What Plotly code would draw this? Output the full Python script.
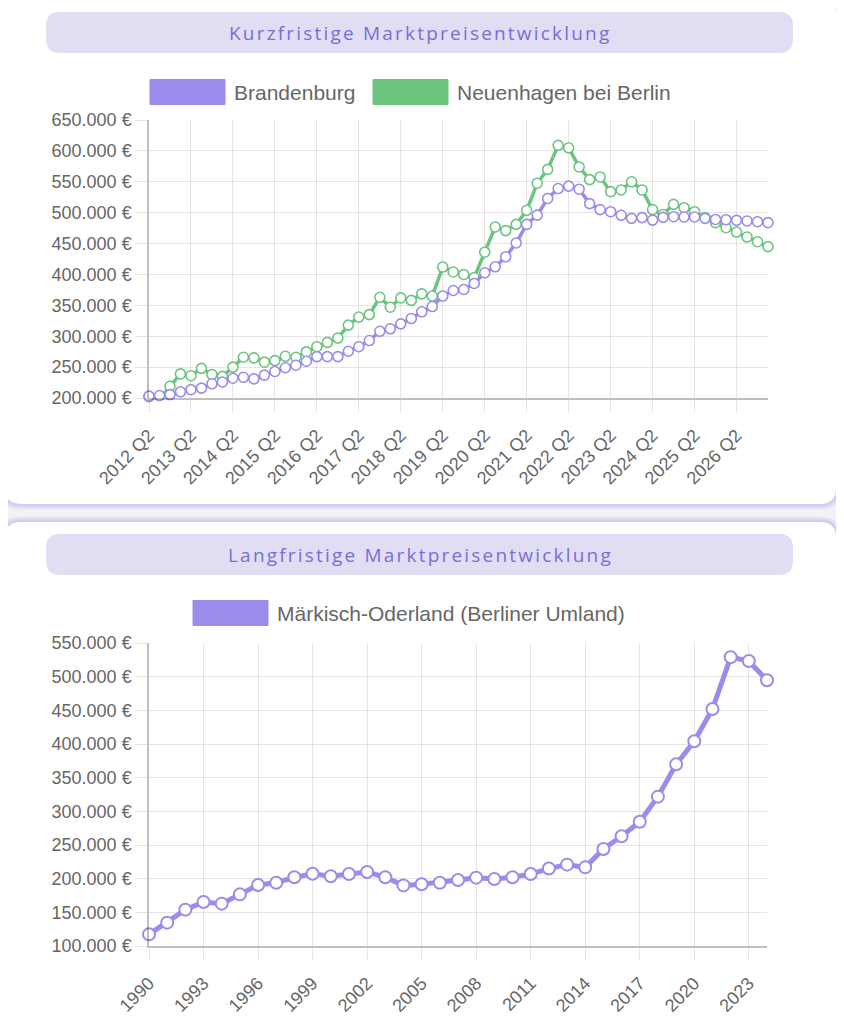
import plotly.graph_objects as go

# the page body adds an 8px margin, so the figure is drawn 8px smaller and
# all reference pixel positions are shifted by that offset
OFF = 8
W, H = 844 - OFF, 1024 - 2 * OFF

# ---- data: short term (quarterly) ----
quarters = [
    "2012 Q2", "2012 Q3", "2012 Q4", "2013 Q1", "2013 Q2", "2013 Q3", "2013 Q4", "2014 Q1",
    "2014 Q2", "2014 Q3", "2014 Q4", "2015 Q1", "2015 Q2", "2015 Q3", "2015 Q4", "2016 Q1",
    "2016 Q2", "2016 Q3", "2016 Q4", "2017 Q1", "2017 Q2", "2017 Q3", "2017 Q4", "2018 Q1",
    "2018 Q2", "2018 Q3", "2018 Q4", "2019 Q1", "2019 Q2", "2019 Q3", "2019 Q4", "2020 Q1",
    "2020 Q2", "2020 Q3", "2020 Q4", "2021 Q1", "2021 Q2", "2021 Q3", "2021 Q4", "2022 Q1",
    "2022 Q2", "2022 Q3", "2022 Q4", "2023 Q1", "2023 Q2", "2023 Q3", "2023 Q4", "2024 Q1",
    "2024 Q2", "2024 Q3", "2024 Q4", "2025 Q1", "2025 Q2", "2025 Q3", "2025 Q4", "2026 Q1",
    "2026 Q2", "2026 Q3", "2026 Q4", "2027 Q1",
]
quarter_ticks = ["2012 Q2", "2013 Q2", "2014 Q2", "2015 Q2", "2016 Q2", "2017 Q2", "2018 Q2",
                 "2019 Q2", "2020 Q2", "2021 Q2", "2022 Q2", "2023 Q2", "2024 Q2", "2025 Q2",
                 "2026 Q2"]

brandenburg = [
    203000, 204000, 205500, 210000, 213500, 216000, 223000, 226000, 232000, 233500,
    231000, 237000, 243000, 249000, 253000, 259500, 267000, 267000, 267000, 275700,
    283000, 293000, 308000, 312000, 320000, 328600, 339500, 348000, 365000, 374000,
    375700, 385400, 402700, 412400, 428600, 451000, 481000, 496000, 523000, 539000,
    543000, 538000, 514600, 505000, 501600, 495700, 490800, 492000, 488000, 492400,
    493500, 493000, 493000, 490800, 489000, 488600, 487600, 486500, 485400, 483800,
]
neuenhagen = [
    202000, 198000, 219000, 239000, 236000, 248000, 238000, 235000, 250000, 266000,
    265000, 258000, 260500, 267500, 266000, 274600, 283000, 290000, 297000, 318000,
    331000, 335000, 363000, 347000, 362000, 358000, 368600, 365000, 412000, 404000,
    400000, 395000, 436000, 476800, 471000, 481000, 503800, 547600, 570000, 609000,
    605000, 574000, 553500, 557800, 534000, 536800, 550000, 536800, 505000, 497000,
    513500, 508000, 501600, 492000, 483800, 475700, 468600, 460500, 453000, 445000,
]

# ---- data: long term (yearly) ----
years = list(range(1990, 2025))
year_ticks = [1990, 1993, 1996, 1999, 2002, 2005, 2008, 2011, 2014, 2017, 2020, 2023]
maerkisch_oderland = [
    117300, 134700, 154000, 165300, 162900, 176700, 190600, 194000, 202000, 207400,
    203500, 207000, 210000, 202000, 190000, 191600, 194000, 198000, 201500, 199500,
    202000, 207000, 215000, 220800, 216800, 244000, 262900, 284600, 321800, 369800,
    404000, 452000, 529000, 523300, 494600,
]

titles = ["Kurzfristige Marktpreisentwicklung", "Langfristige Marktpreisentwicklung"]
names_top = ["Brandenburg", "Neuenhagen bei Berlin"]
name_bottom = "Märkisch-Oderland (Berliner Umland)"

PURPLE = "#9a8cea"
GREEN = "#6cc57f"
TEXT = "#666666"
GRID = "rgba(0,0,0,0.1)"


def fx(x):
    return (x - OFF) / W


def fy(y):
    return 1 - (y - OFF) / H


def pt(x, y):
    return f"{fx(x):.5f},{fy(y):.5f}"


def rrect(x0, y0, x1, y1, r):
    return (f"M {pt(x0 + r, y0)} L {pt(x1 - r, y0)} Q {pt(x1, y0)} {pt(x1, y0 + r)} "
            f"L {pt(x1, y1 - r)} Q {pt(x1, y1)} {pt(x1 - r, y1)} "
            f"L {pt(x0 + r, y1)} Q {pt(x0, y1)} {pt(x0, y1 - r)} "
            f"L {pt(x0, y0 + r)} Q {pt(x0, y0)} {pt(x0 + r, y0)} Z")


fig = go.Figure()

fig.add_trace(go.Scatter(
    x=quarters, y=neuenhagen, name=names_top[1], mode="lines+markers",
    line=dict(color=GREEN, width=3.5),
    marker=dict(symbol="circle", size=10, color="white", line=dict(color=GREEN, width=1.6)),
    cliponaxis=False, showlegend=False, xaxis="x", yaxis="y"))
fig.add_trace(go.Scatter(
    x=quarters, y=brandenburg, name=names_top[0], mode="lines+markers",
    line=dict(color=PURPLE, width=3.5),
    marker=dict(symbol="circle", size=10, color="white", line=dict(color=PURPLE, width=1.6)),
    cliponaxis=False, showlegend=False, xaxis="x", yaxis="y"))
fig.add_trace(go.Scatter(
    x=years, y=maerkisch_oderland, name=name_bottom, mode="lines+markers",
    line=dict(color=PURPLE, width=5),
    marker=dict(symbol="circle", size=12, color="white", line=dict(color=PURPLE, width=2)),
    cliponaxis=False, showlegend=False, xaxis="x2", yaxis="y2"))

shapes = []
annotations = []

# cards with a soft lavender glow
for (cy0, cy1) in [(-2, 504), (522, 1045)]:
    shapes.append(dict(type="path", path=rrect(0, cy0 - 5, 841, cy1 + 5, 20), xref="paper", yref="paper",
                       fillcolor="rgba(200,192,240,0.35)", line=dict(width=0), layer="below"))
    shapes.append(dict(type="path", path=rrect(2.5, cy0 - 2.5, 838.5, cy1 + 2.5, 18), xref="paper",
                       yref="paper", fillcolor="rgba(200,192,240,0.6)", line=dict(width=0), layer="below"))
    shapes.append(dict(type="path", path=rrect(5, cy0, 836, cy1, 16), xref="paper", yref="paper",
                       fillcolor="white", line=dict(width=0), layer="below"))

# title banners
for title, (by0, by1) in zip(titles, [(12, 53), (534, 575)]):
    shapes.append(dict(type="path", path=rrect(46, by0, 793, by1, 14), xref="paper", yref="paper",
                       fillcolor="#e1def4", line=dict(width=0), layer="below"))
    annotations.append(dict(text=f'<span style="letter-spacing:2.2px">{title}</span>',
                            x=fx(420), y=fy((by0 + by1) / 2), xref="paper", yref="paper",
                            showarrow=False, xanchor="center", yanchor="middle",
                            font=dict(family="Open Sans", size=19, color="#7a6dd4")))

# legends (box + label)
legend_items = [(names_top[0], PURPLE, 150, 92), (names_top[1], GREEN, 373, 92), (name_bottom, PURPLE, 193, 613)]
for label, color, lx, ly in legend_items:
    shapes.append(dict(type="rect", x0=fx(lx), x1=fx(lx + 75), y0=fy(ly + 12.5), y1=fy(ly - 12.5),
                       xref="paper", yref="paper", fillcolor=color, line=dict(color=color, width=1)))
    annotations.append(dict(text=label, x=fx(lx + 82), y=fy(ly), xref="paper", yref="paper",
                            showarrow=False, xanchor="left", yanchor="middle",
                            font=dict(family="Liberation Sans, Arial", size=21, color=TEXT)))

tickfont = dict(family="Liberation Sans, Arial", size=18, color=TEXT)
axis_common = dict(showgrid=True, gridcolor=GRID, gridwidth=1, showline=True, linecolor="rgba(0,0,0,0.25)",
                   linewidth=1.5, ticks="outside", ticklen=12, tickcolor=GRID, tickfont=tickfont,
                   zeroline=False, automargin=False)

fig.update_layout(
    width=W, height=H, margin=dict(l=0, r=0, t=0, b=0, pad=0), autosize=False,
    paper_bgcolor="#f2f2f6", plot_bgcolor="rgba(0,0,0,0)",
    separators=",.", shapes=shapes, annotations=annotations,
    xaxis=dict(domain=[fx(149), fx(768)], type="category", range=[0, len(quarters) - 1],
               tickmode="array", tickvals=quarter_ticks, ticktext=quarter_ticks, tickangle=-45,
               ticklabelstandoff=6, anchor="y", **axis_common),
    yaxis=dict(domain=[fy(398), fy(120)], range=[200000, 650000], dtick=50000,
               tickformat=",.0f", ticksuffix=" €", anchor="x", **axis_common),
    xaxis2=dict(domain=[fx(149), fx(767)], range=[1990, 2024], tickmode="array", tickvals=year_ticks,
                tickangle=-45, ticklabelstandoff=6, anchor="y2", **axis_common),
    yaxis2=dict(domain=[fy(946), fy(643)], range=[100000, 550000], dtick=50000,
                tickformat=",.0f", ticksuffix=" €", anchor="x2", **axis_common),
)

fig.write_html("out.html")
